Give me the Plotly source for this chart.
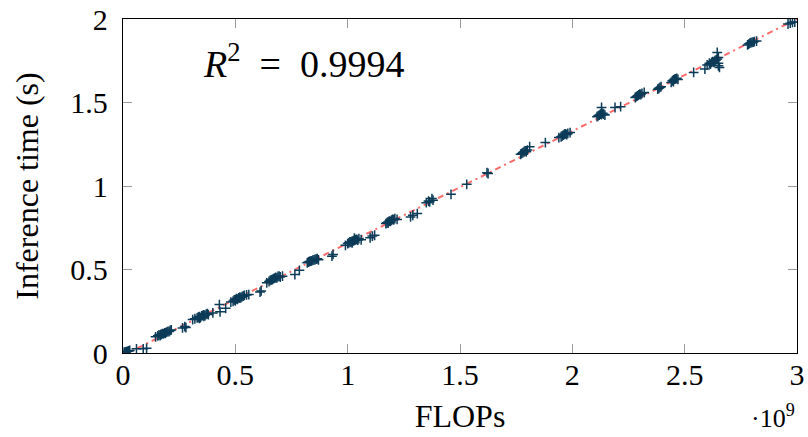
import numpy as np
import plotly.graph_objects as go

# FLOPs in units of 1e9, inference time in seconds
FLOPS_GIGA = [
    0.005, 0.010, 0.015, 0.020, 0.025, 0.008, 0.012, 0.030,
    0.060, 0.090, 0.105,
    0.145, 0.155, 0.160, 0.165, 0.170, 0.175, 0.180, 0.185, 0.190, 0.195, 0.200, 0.205, 0.210, 0.215, 0.168, 0.188,
    0.265, 0.275, 0.280,
    0.310, 0.320, 0.330, 0.335, 0.340, 0.345, 0.350, 0.355, 0.360, 0.365, 0.370, 0.375, 0.380, 0.340, 0.360,
    0.400,
    0.429, 0.432, 0.457,
    0.480, 0.490, 0.495, 0.500, 0.505, 0.510, 0.515, 0.520, 0.525, 0.530, 0.535, 0.540, 0.550, 0.500, 0.520, 0.560,
    0.610, 0.615,
    0.640, 0.650, 0.655, 0.660, 0.665, 0.670, 0.675, 0.680, 0.685, 0.690, 0.695, 0.700, 0.710,
    0.765, 0.785,
    0.820, 0.825, 0.830, 0.835, 0.840, 0.845, 0.850, 0.855, 0.860, 0.865, 0.870,
    0.930, 0.935,
    0.990, 1.000, 1.005, 1.010, 1.015, 1.020, 1.025, 1.030, 1.035, 1.040, 1.045, 1.050, 1.060, 1.020, 1.030,
    1.100, 1.110, 1.120,
    1.170, 1.175, 1.180, 1.185, 1.190, 1.195, 1.200, 1.205, 1.210, 1.220, 1.180,
    1.280, 1.290, 1.310,
    1.350, 1.360, 1.365, 1.375, 1.380,
    1.460,
    1.530,
    1.620, 1.625,
    1.770, 1.775, 1.780, 1.785, 1.790, 1.795, 1.800, 1.810,
    1.880,
    1.940, 1.950, 1.955, 1.960, 1.965, 1.970, 1.975, 1.980, 1.990,
    2.110, 2.115, 2.120, 2.125, 2.130, 2.135, 2.140, 2.130, 2.145,
    2.190, 2.215,
    2.280, 2.285, 2.290, 2.295, 2.300, 2.305, 2.310, 2.320,
    2.380, 2.385, 2.390, 2.395,
    2.440, 2.445, 2.450, 2.455, 2.460, 2.465, 2.470, 2.450,
    2.540,
    2.590,
    2.600, 2.610, 2.615, 2.620, 2.625, 2.630, 2.635, 2.640, 2.645, 2.650, 2.655, 2.645, 2.650, 2.650,
    2.780, 2.785, 2.790, 2.795, 2.800, 2.805, 2.810, 2.820,
    2.960, 2.970, 2.980, 2.990,
]
TIME_S = [
    0.005, 0.003, 0.008, 0.010, 0.012, 0.000, 0.006, 0.015,
    0.025, 0.025, 0.028,
    0.097, 0.103, 0.108, 0.104, 0.112, 0.116, 0.114, 0.120, 0.122, 0.125, 0.130, 0.128, 0.135, 0.138, 0.110, 0.117,
    0.150, 0.158, 0.152,
    0.200, 0.205, 0.210, 0.214, 0.218, 0.212, 0.222, 0.225, 0.228, 0.224, 0.232, 0.235, 0.230, 0.208, 0.220,
    0.240,
    0.290, 0.247, 0.268,
    0.305, 0.310, 0.318, 0.320, 0.325, 0.322, 0.330, 0.335, 0.332, 0.338, 0.340, 0.345, 0.348, 0.312, 0.328, 0.350,
    0.365, 0.372,
    0.420, 0.428, 0.435, 0.438, 0.440, 0.445, 0.448, 0.452, 0.450, 0.458, 0.460, 0.455, 0.460,
    0.470, 0.495,
    0.540, 0.545, 0.548, 0.550, 0.552, 0.556, 0.558, 0.560, 0.562, 0.565, 0.558,
    0.580, 0.590,
    0.645, 0.655, 0.660, 0.665, 0.662, 0.670, 0.672, 0.675, 0.678, 0.680, 0.676, 0.685, 0.678, 0.660, 0.688,
    0.690, 0.700, 0.705,
    0.775, 0.780, 0.785, 0.790, 0.788, 0.795, 0.800, 0.798, 0.805, 0.800, 0.778,
    0.815, 0.825, 0.835,
    0.900, 0.910, 0.905, 0.925, 0.915,
    0.950,
    1.010,
    1.080, 1.075,
    1.190, 1.195, 1.200, 1.205, 1.210, 1.205, 1.215, 1.235,
    1.260,
    1.290, 1.295, 1.300, 1.305, 1.310, 1.312, 1.308, 1.315, 1.320,
    1.415, 1.420, 1.425, 1.430, 1.428, 1.435, 1.430, 1.470, 1.425,
    1.470, 1.475,
    1.530, 1.535, 1.540, 1.545, 1.550, 1.548, 1.555, 1.560,
    1.580, 1.585, 1.590, 1.595,
    1.620, 1.630, 1.635, 1.640, 1.642, 1.645, 1.638, 1.625,
    1.680,
    1.700,
    1.725, 1.735, 1.730, 1.740, 1.745, 1.740, 1.750, 1.755, 1.760, 1.720, 1.710, 1.800, 1.770, 1.735,
    1.845, 1.850, 1.855, 1.858, 1.860, 1.862, 1.865, 1.868,
    1.970, 1.975, 1.980, 1.982,
]

X_TICKS = [0, 0.5, 1, 1.5, 2, 2.5, 3]
X_TICK_LABELS = ["0", "0.5", "1", "1.5", "2", "2.5", "3"]
Y_TICKS = [0, 0.5, 1, 1.5, 2]
Y_TICK_LABELS = ["0", "0.5", "1", "1.5", "2"]
R2_TEXT = "<i>R</i><sup>2</sup>&nbsp;&nbsp;=&nbsp;&nbsp;0.9994"

x = np.array(FLOPS_GIGA)
y = np.array(TIME_S)
slope, intercept = np.polyfit(x, y, 1)
fit_x = np.array([0.0, 3.0])
fit_y = slope * fit_x + intercept

FONT = "Liberation Serif"

fig = go.Figure()
fig.add_trace(go.Scatter(
    x=fit_x, y=fit_y, mode="lines",
    line=dict(color="rgba(255,80,80,0.85)", width=2, dash="6px,4px,2px,4px"),
    showlegend=False, hoverinfo="skip",
))
fig.add_trace(go.Scatter(
    x=x, y=y, mode="markers",
    marker=dict(symbol="cross-thin", size=7, color="#0c3b58",
                line=dict(color="#0c3b58", width=1.5)),
    showlegend=False,
))

axis_common = dict(
    showgrid=False, zeroline=False, automargin=False,
    showline=True, linecolor="black", linewidth=1.3, mirror="ticks",
    ticks="inside", ticklen=9, tickwidth=1, tickcolor="#9a9a9a",
    tickfont=dict(family=FONT, size=30, color="black"),
)

fig.update_xaxes(range=[0, 3], tickvals=X_TICKS, ticktext=X_TICK_LABELS,
                 title=dict(text="FLOPs", font=dict(family=FONT, size=32, color="black"), standoff=14),
                 ticklabelstandoff=-5,
                 **axis_common)
fig.update_yaxes(range=[0, 2], tickvals=Y_TICKS, ticktext=Y_TICK_LABELS,
                 title=dict(text="Inference time (s)", font=dict(family=FONT, size=32, color="black"), standoff=22),
                 ticklabelstandoff=8,
                 **axis_common)

fig.add_annotation(xref="paper", yref="paper", x=0.115, y=0.874,
                   xanchor="left", yanchor="middle", showarrow=False,
                   text=R2_TEXT, font=dict(family=FONT, size=38, color="black"))
fig.add_annotation(xref="paper", yref="paper", x=1.0, y=-0.245,
                   xanchor="right", yanchor="bottom", showarrow=False,
                   text="·10<sup>9</sup>", font=dict(family=FONT, size=26, color="black"))

fig.update_layout(
    width=808, height=437,
    margin=dict(l=123, r=11, t=19, b=84),
    plot_bgcolor="white", paper_bgcolor="white",
)

fig.write_html("out.html", config={"displayModeBar": False},
               post_script="document.body.style.margin='0';document.body.style.overflow='hidden';")
